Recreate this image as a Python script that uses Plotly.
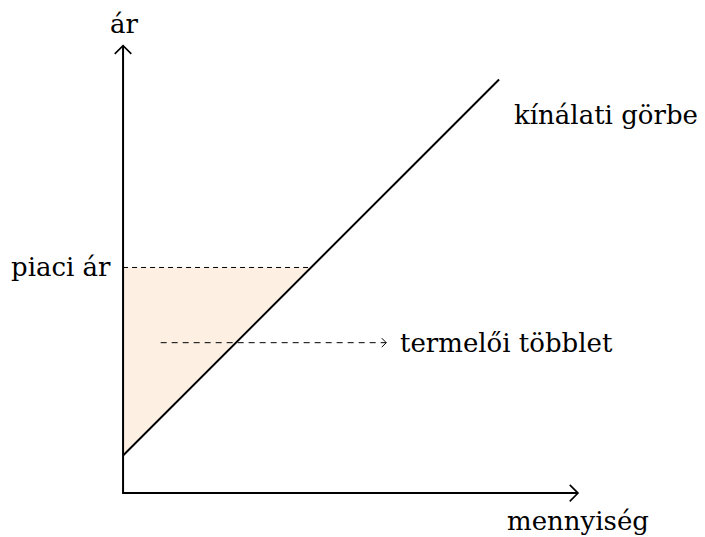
import plotly.graph_objects as go

# data (abstract units)
supply_x = [0, 10]
supply_y = [1, 11]
market_price = 6
x_axis_end = 12.1
y_axis_end = 11.9
surplus_arrow_x = [1, 7]
surplus_arrow_y = 4
labels = {"y": "ár", "x": "mennyiség", "supply": "kínálati görbe",
          "price": "piaci ár", "surplus": "termelői többlet"}

q_star = market_price - supply_y[0]  # intersection quantity
FONT = dict(family="DejaVu Serif, Liberation Serif, serif", size=26, color="black")

fig = go.Figure()

# producer surplus triangle
fig.add_trace(go.Scatter(x=[0, q_star, 0, 0], y=[market_price, market_price, supply_y[0], market_price],
                         fill="toself", fillcolor="#fdf0e3", line=dict(width=0),
                         mode="lines", hoverinfo="skip"))
# market price dashed line
fig.add_trace(go.Scatter(x=[0, q_star], y=[market_price, market_price], mode="lines",
                         line=dict(color="black", width=1, dash="5px,4px")))
# supply curve
fig.add_trace(go.Scatter(x=supply_x, y=supply_y, mode="lines", line=dict(color="black", width=2)))
# axes
fig.add_trace(go.Scatter(x=[0, 0, x_axis_end], y=[y_axis_end, 0, 0], mode="lines",
                         line=dict(color="black", width=2)))
h = 0.22
fig.add_trace(go.Scatter(x=[-h, 0, h], y=[y_axis_end - h, y_axis_end, y_axis_end - h], mode="lines",
                         line=dict(color="black", width=1.6)))
fig.add_trace(go.Scatter(x=[x_axis_end - h, x_axis_end, x_axis_end - h], y=[h, 0, -h], mode="lines",
                         line=dict(color="black", width=1.6)))
# surplus dashed arrow
fig.add_trace(go.Scatter(x=surplus_arrow_x, y=[surplus_arrow_y] * 2, mode="lines",
                         line=dict(color="black", width=1, dash="6px,5px")))
s = 0.12
fig.add_trace(go.Scatter(x=[surplus_arrow_x[1] - s, surplus_arrow_x[1], surplus_arrow_x[1] - s],
                         y=[surplus_arrow_y + s, surplus_arrow_y, surplus_arrow_y - s], mode="lines",
                         line=dict(color="black", width=1)))

ann = [
    dict(x=0.05, y=12.47, text=labels["y"], xanchor="center", yanchor="middle"),
    dict(x=x_axis_end, y=-0.75, text=labels["x"], xanchor="center", yanchor="middle"),
    dict(x=10.35, y=10.05, text=labels["supply"], xanchor="left", yanchor="middle"),
    dict(x=-0.27, y=market_price, text=labels["price"], xanchor="right", yanchor="middle"),
    dict(x=surplus_arrow_x[1] + 0.3, y=surplus_arrow_y, text=labels["surplus"], xanchor="left", yanchor="middle"),
]
for a in ann:
    fig.add_annotation(showarrow=False, font=FONT, **a)

fig.update_layout(
    width=705, height=537, margin=dict(l=0, r=0, t=0, b=0),
    paper_bgcolor="white", plot_bgcolor="white", showlegend=False,
    xaxis=dict(range=[-3.06, 15.69], visible=False, fixedrange=True),
    yaxis=dict(range=[-1.38, 12.90], visible=False, fixedrange=True),
)
fig.write_html("out.html")
